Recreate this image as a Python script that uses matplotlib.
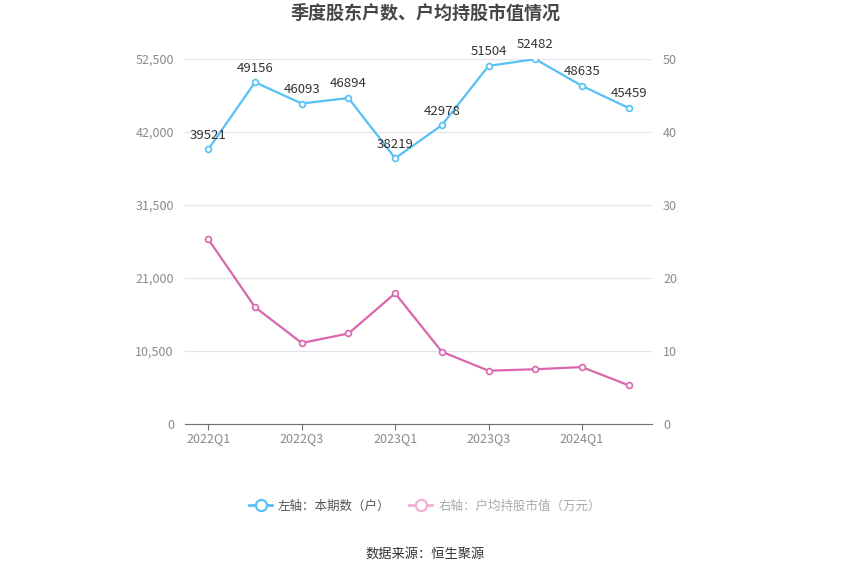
import matplotlib

matplotlib.use("Agg")
import matplotlib.pyplot as plt
from matplotlib.lines import Line2D
from matplotlib.ticker import FuncFormatter

plt.rcParams["font.family"] = ["Noto Sans CJK SC", "DejaVu Sans"]

# data
quarters = ["2022Q1", "2022Q2", "2022Q3", "2022Q4", "2023Q1",
            "2023Q2", "2023Q3", "2023Q4", "2024Q1", "2024Q2"]
holders = [39521, 49156, 46093, 46894, 38219, 42978, 51504, 52482, 48635, 45459]
avg_value = [25.3, 16.0, 11.1, 12.4, 17.9, 9.9, 7.3, 7.5, 7.8, 5.3]

blue = "#56c1f5"
pink = "#d966ac"
grid_c = "#e0e6f1"
label_c = "#8a8a8a"

fig = plt.figure(figsize=(8.5, 5.75), dpi=100)
ax = fig.add_axes([185 / 850, 1 - 424 / 575, 467 / 850, 365 / 575])
ax2 = ax.twinx()

x = list(range(len(quarters)))

ax.plot(x, holders, color=blue, linewidth=1.6, marker="o", markersize=4.2,
        markerfacecolor="white", markeredgewidth=1.2, zorder=3)
for xi, v in zip(x, holders):
    ax.annotate(str(v), (xi, v), xytext=(0, 5.5), textcoords="offset points",
                ha="center", va="bottom", fontsize=9.5, color="#333333")

ax2.plot(x, avg_value, color=pink, linewidth=1.6, marker="o", markersize=4.2,
         markerfacecolor="white", markeredgewidth=1.2, zorder=3)

ax.set_xlim(-0.5, len(quarters) - 0.5)
ax.set_ylim(0, 52500)
ax.set_yticks([0, 10500, 21000, 31500, 42000, 52500])
ax.yaxis.set_major_formatter(FuncFormatter(lambda v, p: f"{int(v):,}"))
ax2.set_ylim(0, 50)
ax2.set_yticks([0, 10, 20, 30, 40, 50])

ax.set_xticks(x[::2])
ax.set_xticklabels(quarters[::2])

ax.grid(axis="y", color=grid_c, linewidth=0.9)
ax.set_axisbelow(True)
for a in (ax, ax2):
    for s in a.spines.values():
        s.set_visible(False)
ax.spines["bottom"].set_visible(True)
ax.spines["bottom"].set_color("#6e7079")

ax.tick_params(axis="x", length=4, color="#6e7079", labelcolor=label_c,
               labelsize=9, pad=2)
ax.tick_params(axis="y", length=0, labelcolor=label_c, labelsize=9, pad=8)
ax2.tick_params(axis="y", length=0, labelcolor=label_c, labelsize=9, pad=8)

fig.text(0.5, 1 - 13 / 575, "季度股东户数、户均持股市值情况", ha="center", va="center",
         fontsize=13, fontweight="bold", color="#464646")

handles = [
    Line2D([], [], color=blue, linewidth=2, marker="o", markersize=8,
           markerfacecolor="white", markeredgewidth=1.6),
    Line2D([], [], color="#f0b0d6", linewidth=2, marker="o", markersize=8,
           markerfacecolor="white", markeredgewidth=1.6),
]
leg = fig.legend(handles, ["左轴：本期数（户）", "右轴：户均持股市值（万元）"],
                 loc="center", bbox_to_anchor=(0.5, 1 - 506 / 575), ncol=2,
                 frameon=False, fontsize=9, handlelength=1.8, columnspacing=1.5,
                 handletextpad=0.5)
leg.get_texts()[0].set_color("#555555")
leg.get_texts()[1].set_color("#aaaaaa")

fig.text(0.5, 1 - 554 / 575, "数据来源：恒生聚源", ha="center", va="center",
         fontsize=9.5, color="#333333")

fig.savefig("out.png", dpi=100)
